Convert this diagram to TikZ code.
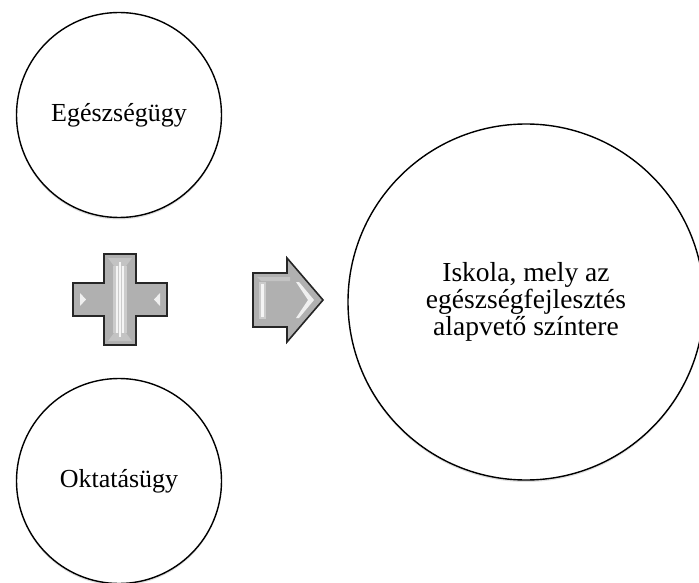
\documentclass[tikz,border=0pt]{standalone}
\usepackage{fontspec}
\setmainfont{Liberation Serif}
\usetikzlibrary{shadows}
\begin{document}
\begin{tikzpicture}[x=1pt,y=-1pt,
  disc/.style={circle,draw=black,line width=1.4pt,fill=white,
    drop shadow={shadow xshift=0pt,shadow yshift=-2pt,opacity=0.25,fill=gray},
    align=center,inner sep=0pt,font=\fontsize{26}{27}\selectfont},
  bevel/.style={fill=gray!62,draw=black!85,line width=1.6pt,line join=miter},
  shine/.style={fill=white,opacity=0.8,draw=none},
  glow/.style={fill=white,opacity=0.35,draw=none},
  shade/.style={fill=gray!40,opacity=0.7,draw=none}]
\useasboundingbox (0,0) rectangle (699,583);

% circles
\node[disc,minimum size=205pt] (health) at (119,115) {Egészségügy};
\node[disc,minimum size=205pt] (edu) at (119,481) {Oktatásügy};
\begin{scope}
\clip (0,0) rectangle (699,583);
\node[disc,minimum size=356pt,font=\fontsize{27.5}{27}\selectfont] (school)
  at (526,302) {Iskola, mely az\\egészségfejlesztés\\alapvető színtere};
\end{scope}

% plus sign
\path[bevel] (104,254) -- (136,254) -- (136,283) -- (167,283) -- (167,316)
  -- (136,316) -- (136,345) -- (104,345) -- (104,316) -- (73,316)
  -- (73,283) -- (104,283) -- cycle;
\fill[shade] (108,258) -- (132,258) -- (126,266) -- (114,266) -- cycle;
\fill[shade] (108,341) -- (132,341) -- (126,333) -- (114,333) -- cycle;
\fill[glow] (113,266) rectangle (127,333);
\fill[shine] (116,266) rectangle (118,333);
\fill[shine] (122,266) rectangle (124,333);
\fill[shine] (119,262) rectangle (121,337);
\fill[shine] (80,293) -- (86,299.5) -- (80,306) -- cycle;
\fill[shine] (160,293) -- (154,299.5) -- (160,306) -- cycle;

% arrow
\path[bevel] (253,273) -- (287,273) -- (287,258) -- (323,300) -- (287,342)
  -- (287,327) -- (253,327) -- cycle;
\fill[glow] (259,282) rectangle (266,319);
\fill[shine] (261,284) rectangle (264,317);
\fill[shine] (296,282) -- (299,282) -- (314,300) -- (299,318) -- (296,318)
  -- (308,300) -- cycle;
\fill[shade] (257,277) -- (290,277) -- (290,281) -- (261,281) -- cycle;
\end{tikzpicture}
\end{document}
